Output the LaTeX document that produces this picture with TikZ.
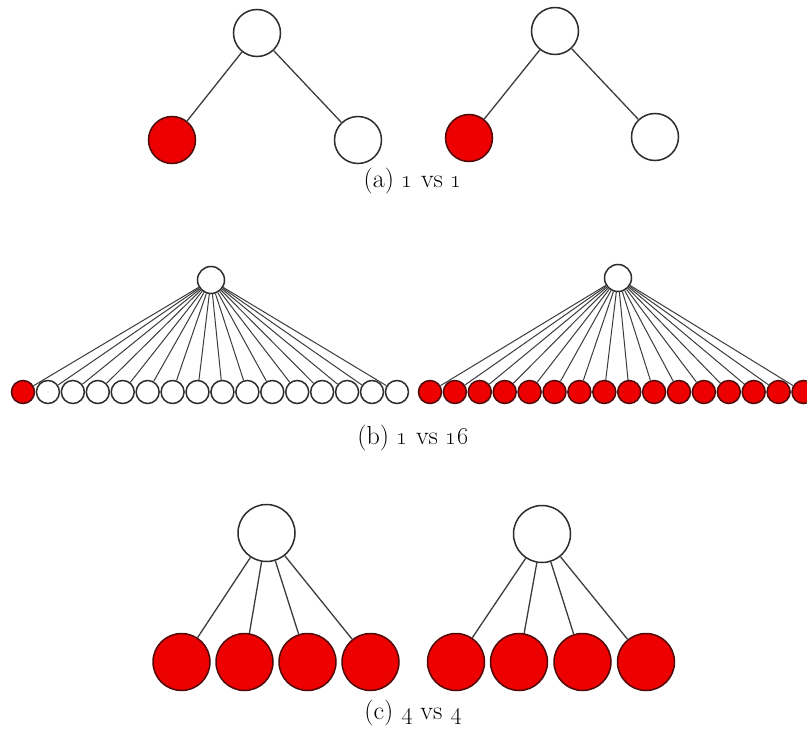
\documentclass[tikz,border=0pt]{standalone}
\definecolor{nodered}{RGB}{236,0,0}
\definecolor{redline}{RGB}{80,10,10}
\definecolor{outl}{RGB}{45,45,45}
\definecolor{linkc}{RGB}{60,60,60}
\tikzset{
  wnode/.style={circle, draw=outl, line width=1.5pt, fill=white, inner sep=0pt, minimum size=#1},
  rnode/.style={circle, draw=redline, line width=1.5pt, fill=nodered, inner sep=0pt, minimum size=#1},
  link/.style={draw=linkc, line width=1.3pt},
  captext/.style={font=\fontsize{26}{30}\selectfont, inner sep=0pt}
}
\begin{document}
\begin{tikzpicture}[x=1pt,y=-1pt]
\clip (0,0) rectangle (807,733);
\fill[white] (0,0) rectangle (807,733);
% (a)
\node[wnode=47pt] (a1r) at (257,33) {};
\node[rnode=47pt] (a1l) at (172,140) {};
\node[wnode=47pt] (a1w) at (358,140) {};
\draw[link] (a1r) -- (a1l);
\draw[link] (a1r) -- (a1w);
\node[wnode=47pt] (a2r) at (555,31) {};
\node[rnode=47pt] (a2l) at (469,138) {};
\node[wnode=47pt] (a2w) at (655,137) {};
\draw[link] (a2r) -- (a2l);
\draw[link] (a2r) -- (a2w);
\node[captext] (capa) at (413,181) {(a) \oldstylenums{1} vs \oldstylenums{1}};
% (b)
\node[wnode=27pt] (b1r) at (211,280) {};
\foreach \i in {0,...,15} {
  \ifnum\i=0
    \node[rnode=23pt] (b1l\i) at ({23+24.93*\i},392) {};
  \else
    \node[wnode=23pt] (b1l\i) at ({23+24.93*\i},392) {};
  \fi
  \draw[link, line width=1pt] (b1r) -- (b1l\i);
}
\node[wnode=27pt] (b2r) at (618,278) {};
\foreach \i in {0,...,15} {
  \node[rnode=23pt] (b2l\i) at ({430+24.9*\i},392) {};
  \draw[link, line width=1pt] (b2r) -- (b2l\i);
}
\node[captext] (capb) at (413,438) {(b) \oldstylenums{1} vs \oldstylenums{16}};
% (c)
\node[wnode=57pt] (c1r) at (266.5,533) {};
\foreach \x [count=\k] in {181.5,244.5,307.5,370.5} {
  \node[rnode=57pt] (c1l\k) at (\x,662) {};
  \draw[link] (c1r) -- (c1l\k);
}
\node[wnode=57pt] (c2r) at (542,534) {};
\foreach \x [count=\k] in {456,519,582.5,646} {
  \node[rnode=57pt] (c2l\k) at (\x,662) {};
  \draw[link] (c2r) -- (c2l\k);
}
\node[captext] (capc) at (413,713) {(c) \oldstylenums{4} vs \oldstylenums{4}};
\end{tikzpicture}
\end{document}
